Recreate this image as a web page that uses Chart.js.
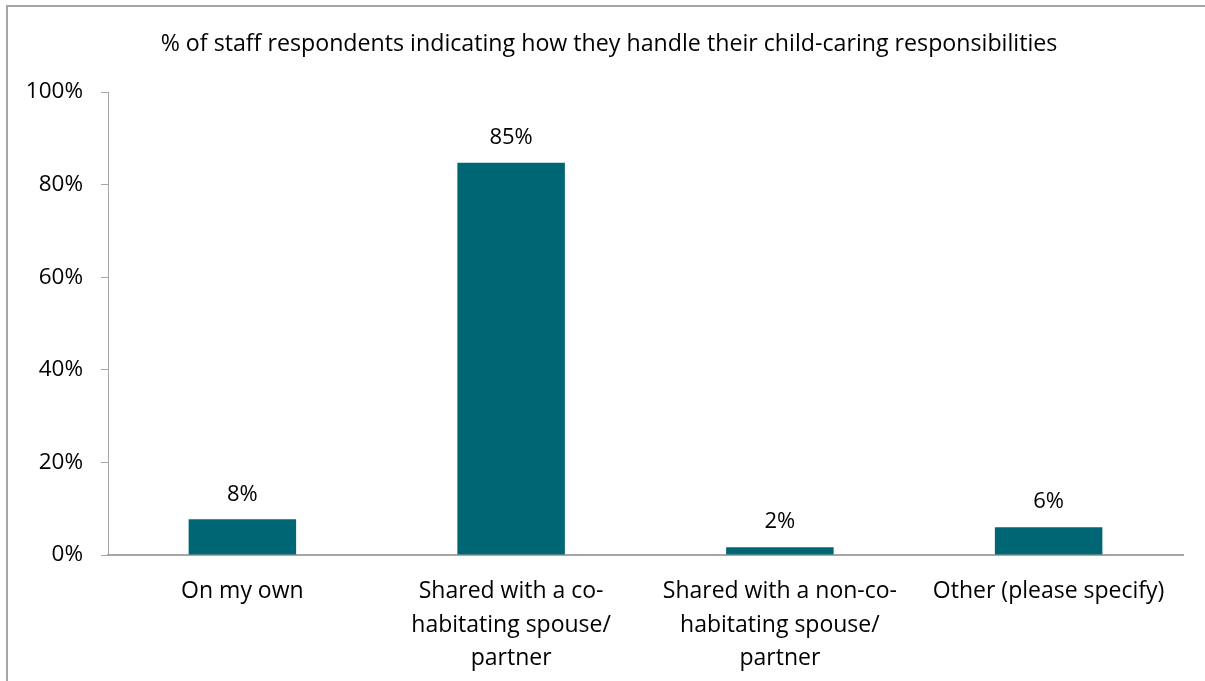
<!DOCTYPE html>
<html lang="en">
<head>
    <meta charset="UTF-8">
    <title>Child-caring responsibilities</title>
    <script src="https://cdn.jsdelivr.net/npm/chart.js@4.4.1/dist/chart.umd.min.js"></script>
    <style>
        html, body { margin: 0; padding: 0; background: #fff; }
        #wrap { position: relative; width: 1205px; height: 681px; overflow: hidden; }
        #frame { position: absolute; left: 6px; top: 5px; width: 1300px; height: 800px;
                 border-left: 2px solid #a6a6a6; border-top: 2px solid #a6a6a6; }
        canvas { position: absolute; left: 0; top: 0; }
    </style>
</head>
<body>
<div id="wrap">
    <div id="frame"></div>
    <canvas id="chart" width="1205" height="681"></canvas>
</div>
<script>
    const titleText = '% of staff respondents indicating how they handle their child-caring responsibilities';
    const categories = [
        ['On my own'],
        ['Shared with a co-', 'habitating spouse/', 'partner'],
        ['Shared with a non-co-', 'habitating spouse/', 'partner'],
        ['Other (please specify)']
    ];
    const values = [7.7, 84.7, 1.7, 6.0];
    const valueLabels = ['8%', '85%', '2%', '6%'];
    const yTicks = [0, 20, 40, 60, 80, 100];

    const fontFamily = '"Open Sans", sans-serif';
    const textColor = '#000000';
    const axisColor = '#a6a6a6';

    // title (drawn by hand so it can sit slightly right of centre) and value labels
    const barLabels = {
        id: 'barLabels',
        afterDatasetsDraw(chart) {
            const ctx = chart.ctx;
            const meta = chart.getDatasetMeta(0);
            ctx.save();
            ctx.fillStyle = textColor;
            ctx.textAlign = 'center';
            ctx.textBaseline = 'middle';
            ctx.font = '23.2px ' + fontFamily;
            ctx.fillText(titleText, 609, 44);
            ctx.font = '22px ' + fontFamily;
            meta.data.forEach((bar, i) => {
                ctx.fillText(valueLabels[i], bar.x, bar.y - 25);
            });
            ctx.restore();
        }
    };

    new Chart(document.getElementById('chart'), {
        type: 'bar',
        data: {
            labels: categories,
            datasets: [{
                data: values,
                backgroundColor: '#006674',
                borderWidth: 0,
                categoryPercentage: 1,
                barPercentage: 0.4
            }]
        },
        options: {
            responsive: false,
            animation: false,
            layout: { padding: { left: 0, right: 22, top: 92, bottom: 0 } },
            plugins: {
                legend: { display: false },
                tooltip: { enabled: false },
                title: { display: false }
            },
            scales: {
                x: {
                    grid: { display: false, drawTicks: false },
                    border: { display: true, color: axisColor, width: 2 },
                    ticks: {
                        color: textColor,
                        font: { family: fontFamily, size: 23, lineHeight: 1.45 },
                        padding: 20,
                        maxRotation: 0,
                        autoSkip: false
                    },
                    afterFit(scale) { scale.height = 126; }
                },
                y: {
                    min: 0,
                    max: 100,
                    afterBuildTicks(scale) { scale.ticks = yTicks.map(v => ({ value: v })); },
                    grid: {
                        display: true,
                        drawOnChartArea: false,
                        drawTicks: true,
                        tickLength: 7,
                        color: axisColor,
                        lineWidth: 1
                    },
                    border: { display: true, color: axisColor, width: 1 },
                    ticks: {
                        color: textColor,
                        font: { family: fontFamily, size: 22.5 },
                        padding: 18,
                        callback: v => v + '%'
                    },
                    afterFit(scale) { scale.width = 108; }
                }
            }
        },
        plugins: [barLabels]
    });
</script>
</body>
</html>
